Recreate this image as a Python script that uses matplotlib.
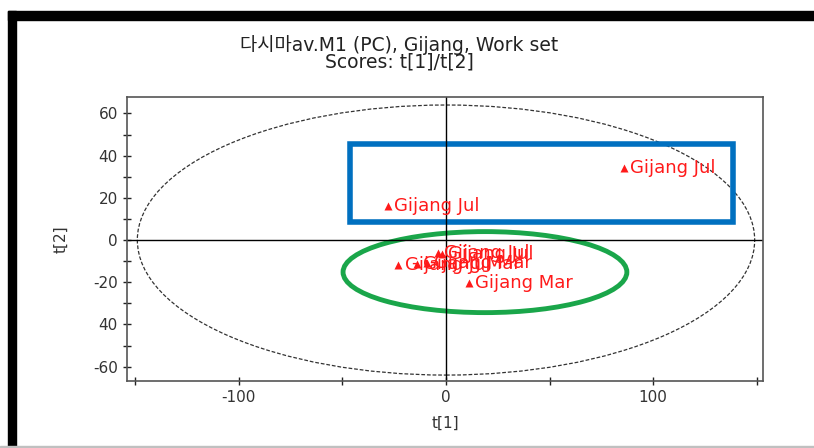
import numpy as np
import matplotlib
matplotlib.use("Agg")
import matplotlib.pyplot as plt
from matplotlib.patches import Ellipse, Rectangle

plt.rcParams['font.family'] = ['DejaVu Sans', 'Noto Sans CJK KR']
plt.rcParams['axes.unicode_minus'] = False

# scores
t1 = [86, -28, 11, -4, -2, -23, -9, -14]
t2 = [34, 16, -20.5, -6, -6.5, -12, -11, -11.5]
names = ["Gijang Jul", "Gijang Jul", "Gijang Mar", "Gijang Jul",
         "Gijang Jul", "Gijang Jul", "Gijang Mar", "Gijang Mar"]

# Hotelling T2 ellipse semi-axes
t2_ellipse = (149, 64)

xticks = [-100, 0, 100]
yticks = [60, 40, 20, 0, -20, -40, -60]
ytick_labels = ["60", "40", "20", "0", "-20", "40", "-60"]

fig = plt.figure(figsize=(8.14, 4.48), dpi=100)
ax = fig.add_axes([0.156, 0.1496, 0.7813, 0.6339])

ax.add_patch(Ellipse((0, 0), 2 * t2_ellipse[0], 2 * t2_ellipse[1], fill=False,
                     ec='#333333', lw=0.9, ls=(0, (3, 1.5))))
ax.axhline(0, color='black', lw=1)
ax.axvline(0, color='black', lw=1)

ax.plot(t1, t2, '^', color='#ff1a1a', ms=5.5, mec='none')
for x, y, s in zip(t1, t2, names):
    ax.text(x + 3, y, s, color='#ff1a1a', fontsize=13, va='center', ha='left')

ax.set_xlim(-154, 153)
ax.set_ylim(-66.8, 67.8)
ax.set_xticks(xticks)
ax.set_xticks([-150, -50, 50, 150], minor=True)
ax.set_yticks(yticks)
ax.set_yticklabels(ytick_labels)
ax.set_yticks([50, 30, 10, -10, -30, -50], minor=True)
ax.tick_params(which='both', direction='inout', length=6, width=1, color='#222222',
               labelsize=11, labelcolor='#333333')
for sp in ax.spines.values():
    sp.set_color('#555555')
    sp.set_linewidth(1.2)

ax.set_xlabel("t[1]", fontsize=11, color='#333333', labelpad=8)
ax.set_ylabel("t[2]", fontsize=11, color='#333333', labelpad=18)

fig.text(399 / 814, 1 - 45 / 448, "다시마av.M1 (PC), Gijang, Work set",
         ha='center', va='center', fontsize=13.5, color='#222222')
fig.text(399 / 814, 1 - 62 / 448, "Scores: t[1]/t[2]",
         ha='center', va='center', fontsize=13.5, color='#222222')

# highlight annotations
ax.add_patch(Rectangle((-46.4, 8.5), 185, 37, fill=False, ec='#0070c0', lw=4,
                       clip_on=False))
ax.add_patch(Ellipse((18.8, -15.2), 137, 38.4, fill=False, ec='#1aa64a', lw=3.5,
                     clip_on=False))

# page border
fig.patches.append(Rectangle((8 / 814, 1 - 20 / 448), 1, 9 / 448, color='black',
                             transform=fig.transFigure, figure=fig))
fig.patches.append(Rectangle((8 / 814, 0), 8 / 814, 1 - 11 / 448, color='black',
                             transform=fig.transFigure, figure=fig))
fig.patches.append(Rectangle((0, 0), 1, 2 / 448, color='#c0c0c0',
                             transform=fig.transFigure, figure=fig))

fig.savefig("out.png", dpi=100)
